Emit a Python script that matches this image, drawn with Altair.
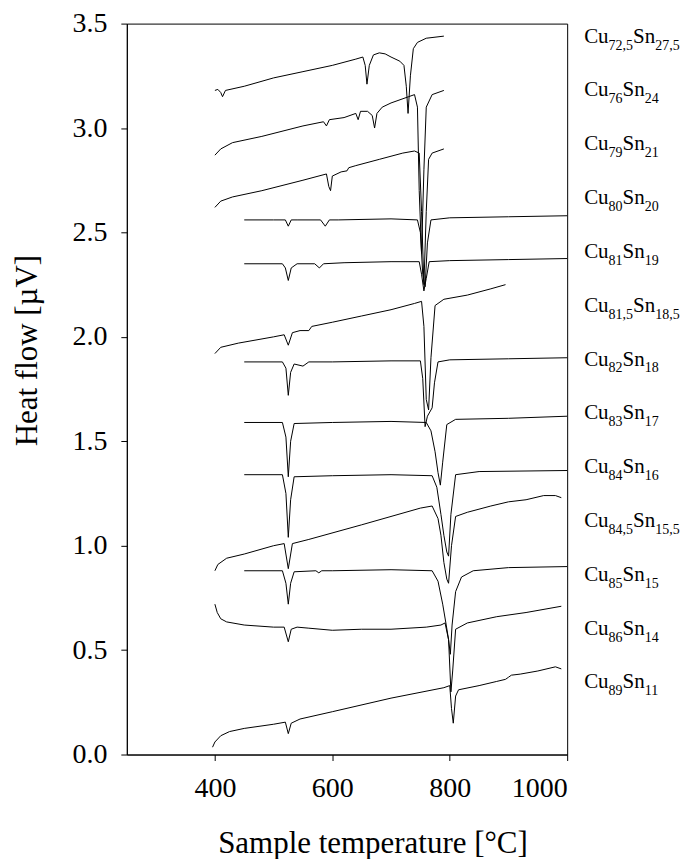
import altair as alt
import pandas as pd

# ---------------- data ----------------
CU725_T = [400, 405, 410, 413, 418, 450, 500, 550, 600, 640, 652, 656, 659, 663, 670, 680, 690, 700, 715, 722, 726, 729, 733, 738, 745, 760, 790]
CU725_V = [3.18, 3.185, 3.17, 3.15, 3.18, 3.20, 3.24, 3.27, 3.30, 3.33, 3.34, 3.30, 3.21, 3.30, 3.35, 3.36, 3.355, 3.34, 3.32, 3.30, 3.20, 3.07, 3.25, 3.38, 3.41, 3.43, 3.44]

CU76_T = [400, 410, 430, 480, 550, 585, 590, 595, 620, 640, 644, 648, 660, 668, 672, 676, 685, 700, 730, 740, 745, 748, 752, 756, 760, 770, 790]
CU76_V = [2.87, 2.90, 2.93, 2.96, 3.01, 3.03, 3.01, 3.04, 3.05, 3.07, 3.04, 3.08, 3.08, 3.06, 3.00, 3.07, 3.10, 3.12, 3.15, 3.16, 3.10, 2.70, 2.40, 2.80, 3.10, 3.16, 3.18]

CU79_T = [400, 410, 430, 480, 550, 590, 594, 597, 600, 615, 625, 628, 640, 680, 720, 740, 748, 752, 756, 760, 764, 770, 790]
CU79_V = [2.62, 2.65, 2.67, 2.70, 2.75, 2.78, 2.72, 2.70, 2.77, 2.79, 2.795, 2.81, 2.82, 2.85, 2.88, 2.89, 2.88, 2.60, 2.25, 2.60, 2.85, 2.88, 2.90]

CU80_T = [450, 500, 520, 525, 530, 540, 580, 588, 595, 610, 700, 745, 750, 754, 758, 762, 768, 800, 900, 1000]
CU80_V = [2.56, 2.56, 2.56, 2.53, 2.56, 2.56, 2.56, 2.53, 2.56, 2.56, 2.565, 2.56, 2.50, 2.30, 2.24, 2.45, 2.56, 2.57, 2.575, 2.58]

CU81_T = [450, 515, 520, 525, 530, 540, 570, 578, 585, 620, 700, 748, 752, 756, 760, 765, 800, 900, 1000]
CU81_V = [2.35, 2.35, 2.33, 2.27, 2.33, 2.35, 2.35, 2.33, 2.35, 2.355, 2.36, 2.36, 2.30, 2.22, 2.28, 2.36, 2.365, 2.37, 2.375]

CU815_T = [400, 410, 440, 500, 518, 525, 532, 545, 560, 565, 600, 650, 700, 740, 752, 756, 760, 764, 768, 775, 790, 830, 870, 895]
CU815_V = [1.92, 1.95, 1.97, 2.00, 2.01, 1.96, 2.02, 2.03, 2.03, 2.05, 2.07, 2.10, 2.13, 2.16, 2.17, 2.05, 1.70, 1.65, 1.90, 2.15, 2.18, 2.20, 2.23, 2.25]

CU82_T = [450, 515, 521, 525, 529, 535, 550, 560, 600, 700, 750, 754, 758, 762, 766, 770, 774, 780, 800, 900, 1000]
CU82_V = [1.88, 1.88, 1.85, 1.72, 1.83, 1.87, 1.86, 1.88, 1.88, 1.885, 1.885, 1.80, 1.57, 1.62, 1.64, 1.66, 1.78, 1.88, 1.89, 1.895, 1.90]

CU83_T = [450, 515, 521, 525, 529, 535, 600, 700, 760, 768, 775, 780, 784, 788, 795, 810, 900, 1000]
CU83_V = [1.59, 1.59, 1.52, 1.33, 1.50, 1.585, 1.59, 1.595, 1.59, 1.55, 1.45, 1.35, 1.29, 1.40, 1.58, 1.605, 1.61, 1.62]

CU84_T = [450, 515, 521, 525, 529, 535, 600, 700, 770, 778, 785, 790, 795, 798, 802, 810, 850, 1000]
CU84_V = [1.34, 1.34, 1.25, 1.04, 1.22, 1.33, 1.335, 1.34, 1.335, 1.28, 1.15, 1.05, 0.97, 0.95, 1.15, 1.34, 1.355, 1.36]

CU845_T = [400, 405, 420, 450, 500, 518, 525, 532, 560, 650, 750, 770, 780, 785, 790, 795, 798, 803, 810, 830, 870, 900, 930, 960, 980, 990]
CU845_V = [0.88, 0.91, 0.94, 0.96, 1.00, 1.01, 0.89, 1.01, 1.03, 1.10, 1.18, 1.19, 1.13, 1.05, 0.92, 0.84, 0.82, 1.00, 1.14, 1.16, 1.19, 1.21, 1.22, 1.24, 1.24, 1.23]

CU85_T = [450, 515, 521, 525, 529, 535, 572, 577, 582, 600, 700, 770, 780, 788, 794, 798, 801, 804, 810, 820, 840, 900, 1000]
CU85_V = [0.88, 0.88, 0.82, 0.72, 0.82, 0.875, 0.88, 0.87, 0.88, 0.88, 0.885, 0.88, 0.83, 0.72, 0.62, 0.55, 0.48, 0.62, 0.78, 0.85, 0.88, 0.895, 0.90]

CU86_T = [400, 404, 410, 420, 450, 500, 518, 525, 530, 540, 560, 600, 650, 700, 760, 785, 792, 798, 802, 805, 810, 830, 880, 930, 990]
CU86_V = [0.72, 0.68, 0.65, 0.635, 0.62, 0.61, 0.61, 0.54, 0.60, 0.61, 0.605, 0.595, 0.60, 0.60, 0.61, 0.62, 0.63, 0.55, 0.30, 0.40, 0.60, 0.63, 0.66, 0.68, 0.71]

CU89_T = [396, 400, 410, 425, 450, 500, 520, 525, 530, 545, 600, 700, 790, 800, 803, 806, 810, 815, 850, 880, 895, 900, 905, 920, 950, 980, 990]
CU89_V = [0.035, 0.06, 0.09, 0.11, 0.125, 0.145, 0.155, 0.10, 0.15, 0.17, 0.205, 0.27, 0.32, 0.33, 0.22, 0.15, 0.28, 0.31, 0.33, 0.35, 0.36, 0.37, 0.38, 0.385, 0.40, 0.42, 0.41]

SERIES = ["72,5", "76", "79", "80", "81", "81,5", "82", "83", "84", "84,5", "85", "86", "89"]
SN_SUB = ["27,5", "24", "21", "20", "19", "18,5", "18", "17", "16", "15,5", "15", "14", "11"]
CURVES_T = [CU725_T, CU76_T, CU79_T, CU80_T, CU81_T, CU815_T, CU82_T, CU83_T, CU84_T, CU845_T, CU85_T, CU86_T, CU89_T]
CURVES_V = [CU725_V, CU76_V, CU79_V, CU80_V, CU81_V, CU815_V, CU82_V, CU83_V, CU84_V, CU845_V, CU85_V, CU86_V, CU89_V]

X_TICKS = [400, 600, 800, 1000]
Y_TICKS = [0.0, 0.5, 1.0, 1.5, 2.0, 2.5, 3.0, 3.5]

# ---------------- layout ----------------
PAD_TOP = 15
PLOT_TOP = 8 + PAD_TOP
W, H = 441, 732
T0, T1 = 250, 1000
V0, V1 = 0.0, 3.5
PX_PER_T = W / (T1 - T0)
PX_PER_V = H / (V1 - V0)
FONT = "Liberation Serif"
MAIN_FS, SUB_FS = 21, 14
CHAR_W = {"C": 0.667, "u": 0.5, "S": 0.556, "n": 0.5, ",": 0.25}


def text_w(s, fs):
    return sum(CHAR_W.get(c, 0.5) for c in s) * fs


rows = []
for name, ts, vs in zip(SERIES, CURVES_T, CURVES_V):
    for i, (t, v) in enumerate(zip(ts, vs)):
        rows.append({"series": name, "i": i, "T": t, "V": v})
df = pd.DataFrame(rows)

# label pieces (positions from pixel offsets to the right of the frame)
lab_rows = []
x_start_px = W + 17
for k, (c, s) in enumerate(zip(SERIES, SN_SUB)):
    base_page_y = 42 + k * 53.9
    yv = V1 - (base_page_y - PLOT_TOP) / PX_PER_V
    p1 = x_start_px
    p2 = p1 + text_w("Cu", MAIN_FS)
    p3 = p2 + text_w(c, SUB_FS)
    p4 = p3 + text_w("Sn", MAIN_FS)
    for txt, px, kind in [("Cu", p1, "main"), (c, p2, "sub"), ("Sn", p3, "main"), (s, p4, "sub")]:
        lab_rows.append({"txt": txt, "T": T0 + px / PX_PER_T, "V": yv, "kind": kind})
labels = pd.DataFrame(lab_rows)

xs = alt.Scale(domain=[T0, T1], nice=False, zero=False)
ys = alt.Scale(domain=[V0, V1], nice=False, zero=False)

lines = alt.Chart(df).mark_line(color="black", strokeWidth=1).encode(
    x=alt.X("T:Q", scale=xs, axis=alt.Axis(values=X_TICKS, format="d", title="Sample temperature [°C]",
                                          labelFont=FONT, titleFont=FONT,
                                          titleX=246, titleY=98, titleBaseline="alphabetic")),
    y=alt.Y("V:Q", scale=ys, axis=alt.Axis(values=Y_TICKS, format=".1f", title="Heat flow [µV]",
                                          labelFont=FONT, titleFont=FONT,
                                          titleX=-90, titleY=327, titleBaseline="alphabetic")),
    detail="series:N",
    order="i:Q",
)

main_txt = alt.Chart(labels).transform_filter(alt.datum.kind == "main").mark_text(
    align="left", baseline="alphabetic", font=FONT, fontSize=MAIN_FS, color="black", clip=False
).encode(x=alt.X("T:Q", scale=xs), y=alt.Y("V:Q", scale=ys), text="txt:N")

sub_txt = alt.Chart(labels).transform_filter(alt.datum.kind == "sub").mark_text(
    align="left", baseline="alphabetic", font=FONT, fontSize=SUB_FS, color="black", dy=7, clip=False
).encode(x=alt.X("T:Q", scale=xs), y=alt.Y("V:Q", scale=ys), text="txt:N")

chart = alt.layer(lines, main_txt, sub_txt).properties(
    width=W, height=H,
    autosize=alt.AutoSizeParams(type="none"),
    padding={"left": 119, "top": PAD_TOP, "right": 114, "bottom": 104},
).configure(
    font=FONT,
    style={"guide-label": {"font": FONT}, "guide-title": {"font": FONT}},
).configure_view(stroke="black", strokeWidth=1).configure_axis(
    grid=False, domainColor="black", tickColor="black", labelColor="black", titleColor="black",
    labelFont=FONT, titleFont=FONT, labelFontSize=28, titleFontSize=31, titleFontWeight="normal",
    tickSize=6, labelPadding=14, domainWidth=1, tickWidth=1,
).configure_axisX(labelFont=FONT).configure_axisY(labelFont=FONT)

chart.save("out.html", embed_options={"renderer": "svg", "actions": False})
